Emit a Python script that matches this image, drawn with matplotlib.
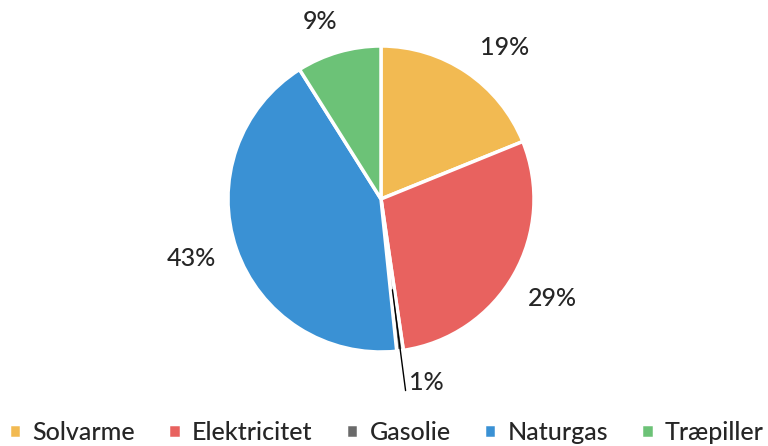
import matplotlib.pyplot as plt
import numpy as np

categories = ['Solvarme', 'Elektricitet', 'Gasolie', 'Naturgas', 'Træpiller']
shares = [19, 29, 0.7, 43, 9]
pct_labels = ['19%', '29%', '1%', '43%', '9%']
colors = ['#F2BA52', '#E8625F', '#6A6A6A', '#3A91D4', '#6CC277']

plt.rcParams['font.family'] = ['Lato', 'DejaVu Sans']

fig = plt.figure(figsize=(7.68, 4.46), dpi=100)
# pie centre ~ (381, 199) px, radius ~153 px
ax = fig.add_axes([(381 - 153) / 768, (247 - 153) / 446, 306 / 768, 306 / 446])
wedges, _ = ax.pie(shares, colors=colors, startangle=90, counterclock=False,
                   wedgeprops=dict(edgecolor='white', linewidth=2.5))
ax.set_xlim(-1, 1)
ax.set_ylim(-1, 1)
ax.set_aspect('equal')

# label positions in pie radius units
label_pos = [(0.81, 0.99), (1.12, -0.65), (0.18, -1.20), (-1.24, -0.39), (-0.40, 1.16)]
for w, lab, (lx, ly) in zip(wedges, pct_labels, label_pos):
    if lab == '1%':
        ang = np.deg2rad((w.theta1 + w.theta2) / 2)
        p0 = (0.58 * np.cos(ang), 0.58 * np.sin(ang))
        ax.annotate('', xy=p0, xytext=(0.163, -1.27),
                    arrowprops=dict(arrowstyle='-', color='black', lw=1),
                    annotation_clip=False)
        ax.text(lx, ly, lab, ha='left', va='center', fontsize=18,
                fontweight='medium', color='#262626', clip_on=False)
        continue
    ax.text(lx, ly, lab, ha='center', va='center', fontsize=18,
            fontweight='medium', color='#262626', clip_on=False)

fig.legend(wedges, categories, loc='lower center', ncol=5, frameon=False,
           bbox_to_anchor=(0.503, -0.045), prop=dict(size=18, weight='medium'),
           handlelength=0.5, handleheight=0.5, handletextpad=0.45,
           columnspacing=1.33, labelcolor='#262626')

fig.savefig('out.png', dpi=100)
